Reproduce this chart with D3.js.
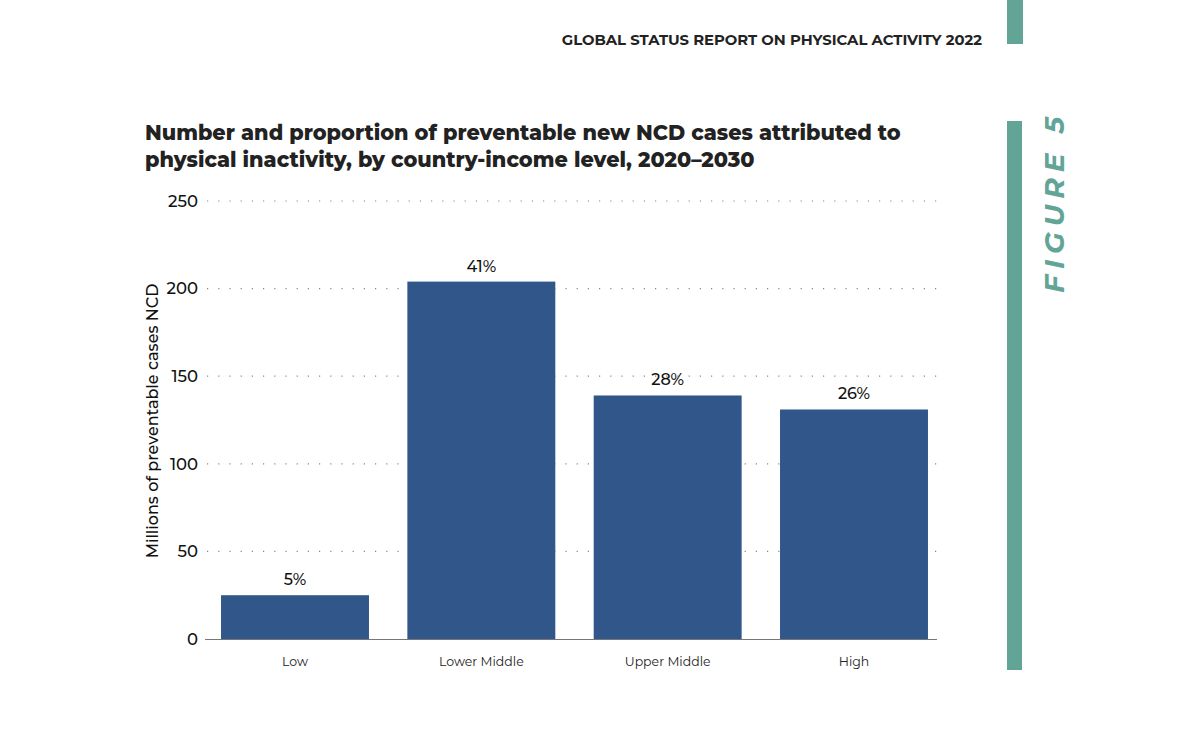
<!DOCTYPE html>
<html>
<head>
<meta charset="utf-8">
<script src="https://cdn.jsdelivr.net/npm/d3@7"></script>
<style>
  body { margin: 0; background: #fff; }
  svg text { font-family: "Montserrat", "Lato", "Open Sans", sans-serif; }
</style>
</head>
<body>
<div id="chart"></div>
<script>
const categories = ["Low", "Lower Middle", "Upper Middle", "High"];
const cases = [25, 204, 139, 131];
const shares = ["5%", "41%", "28%", "26%"];
const yTicks = [0, 50, 100, 150, 200, 250];

const W = 1183, H = 740;
const TEAL = "#62a597";
const BLUE = "#31568a";
const FONT = "Montserrat, Lato, 'Open Sans', sans-serif";

const svg = d3.select("#chart").append("svg")
    .attr("width", W)
    .attr("height", H);

// header strip
svg.append("rect").attr("x", 1007).attr("y", 0).attr("width", 16).attr("height", 44).attr("fill", TEAL);
svg.append("text")
    .attr("x", 982).attr("y", 45)
    .attr("text-anchor", "end")
    .attr("font-size", "14.8px").attr("font-weight", 700)
    .attr("fill", "#222")
    .text("GLOBAL STATUS REPORT ON PHYSICAL ACTIVITY 2022");

// side figure tag
svg.append("rect").attr("x", 1007).attr("y", 121).attr("width", 15).attr("height", 549).attr("fill", TEAL);
svg.append("text")
    .attr("transform", "translate(1064, 293) rotate(-90)")
    .attr("font-size", "28px").attr("font-weight", 700).attr("font-style", "italic")
    .attr("letter-spacing", "6px")
    .attr("fill", TEAL)
    .text("FIGURE 5");

// title
const title = svg.append("text")
    .attr("x", 145).attr("y", 140)
    .attr("font-size", "20.8px").attr("font-weight", 800)
    .attr("fill", "#222");
title.append("tspan").attr("x", 145).text("Number and proportion of preventable new NCD cases attributed to");
title.append("tspan").attr("x", 145).attr("dy", 27).text("physical inactivity, by country-income level, 2020–2030");

const x = d3.scaleBand()
    .domain(categories)
    .range([205, 944])
    .paddingInner(0.206)
    .paddingOuter(0.086);

const y = d3.scaleLinear()
    .domain([0, 250])
    .range([639, 201]);

// dotted grid
svg.append("g")
  .selectAll("line")
  .data(yTicks.filter(d => d > 0))
  .join("line")
    .attr("x1", 207).attr("x2", 937)
    .attr("y1", d => y(d)).attr("y2", d => y(d))
    .attr("stroke", "#888")
    .attr("stroke-width", 1.2)
    .attr("stroke-dasharray", "1.2,10");

// y axis labels
const yAxis = svg.append("g")
    .attr("transform", "translate(205,0)")
    .call(d3.axisLeft(y).tickValues(yTicks).tickSize(0).tickPadding(7));
yAxis.select(".domain").remove();
yAxis.selectAll("text")
    .attr("font-size", "16.5px")
    .attr("font-weight", 500)
    .attr("fill", "#111")
    .attr("font-family", FONT);

svg.append("text")
    .attr("transform", "translate(158, 421) rotate(-90)")
    .attr("text-anchor", "middle")
    .attr("font-size", "16px")
    .attr("font-weight", 500)
    .attr("fill", "#111")
    .text("Millions of preventable cases NCD");

// bars
svg.append("g")
  .selectAll("rect")
  .data(categories)
  .join("rect")
    .attr("x", d => x(d))
    .attr("width", x.bandwidth())
    .attr("y", (d, i) => y(cases[i]))
    .attr("height", (d, i) => y(0) - y(cases[i]))
    .attr("fill", BLUE);

// value labels
svg.append("g")
  .selectAll("text")
  .data(categories)
  .join("text")
    .attr("x", d => x(d) + x.bandwidth() / 2)
    .attr("y", (d, i) => y(cases[i]) - 10)
    .attr("text-anchor", "middle")
    .attr("font-size", "16px")
    .attr("font-weight", 500)
    .attr("fill", "#111")
    .text((d, i) => shares[i]);

// x axis
const xAxis = svg.append("g")
    .attr("transform", `translate(0,${y(0)})`)
    .call(d3.axisBottom(x).tickSize(0).tickPadding(18));
xAxis.select(".domain")
    .attr("d", "M205,0.5H937")
    .attr("stroke", "#777");
xAxis.selectAll("text")
    .attr("font-size", "12.5px")
    .attr("fill", "#222")
    .attr("font-family", FONT);
</script>
</body>
</html>
